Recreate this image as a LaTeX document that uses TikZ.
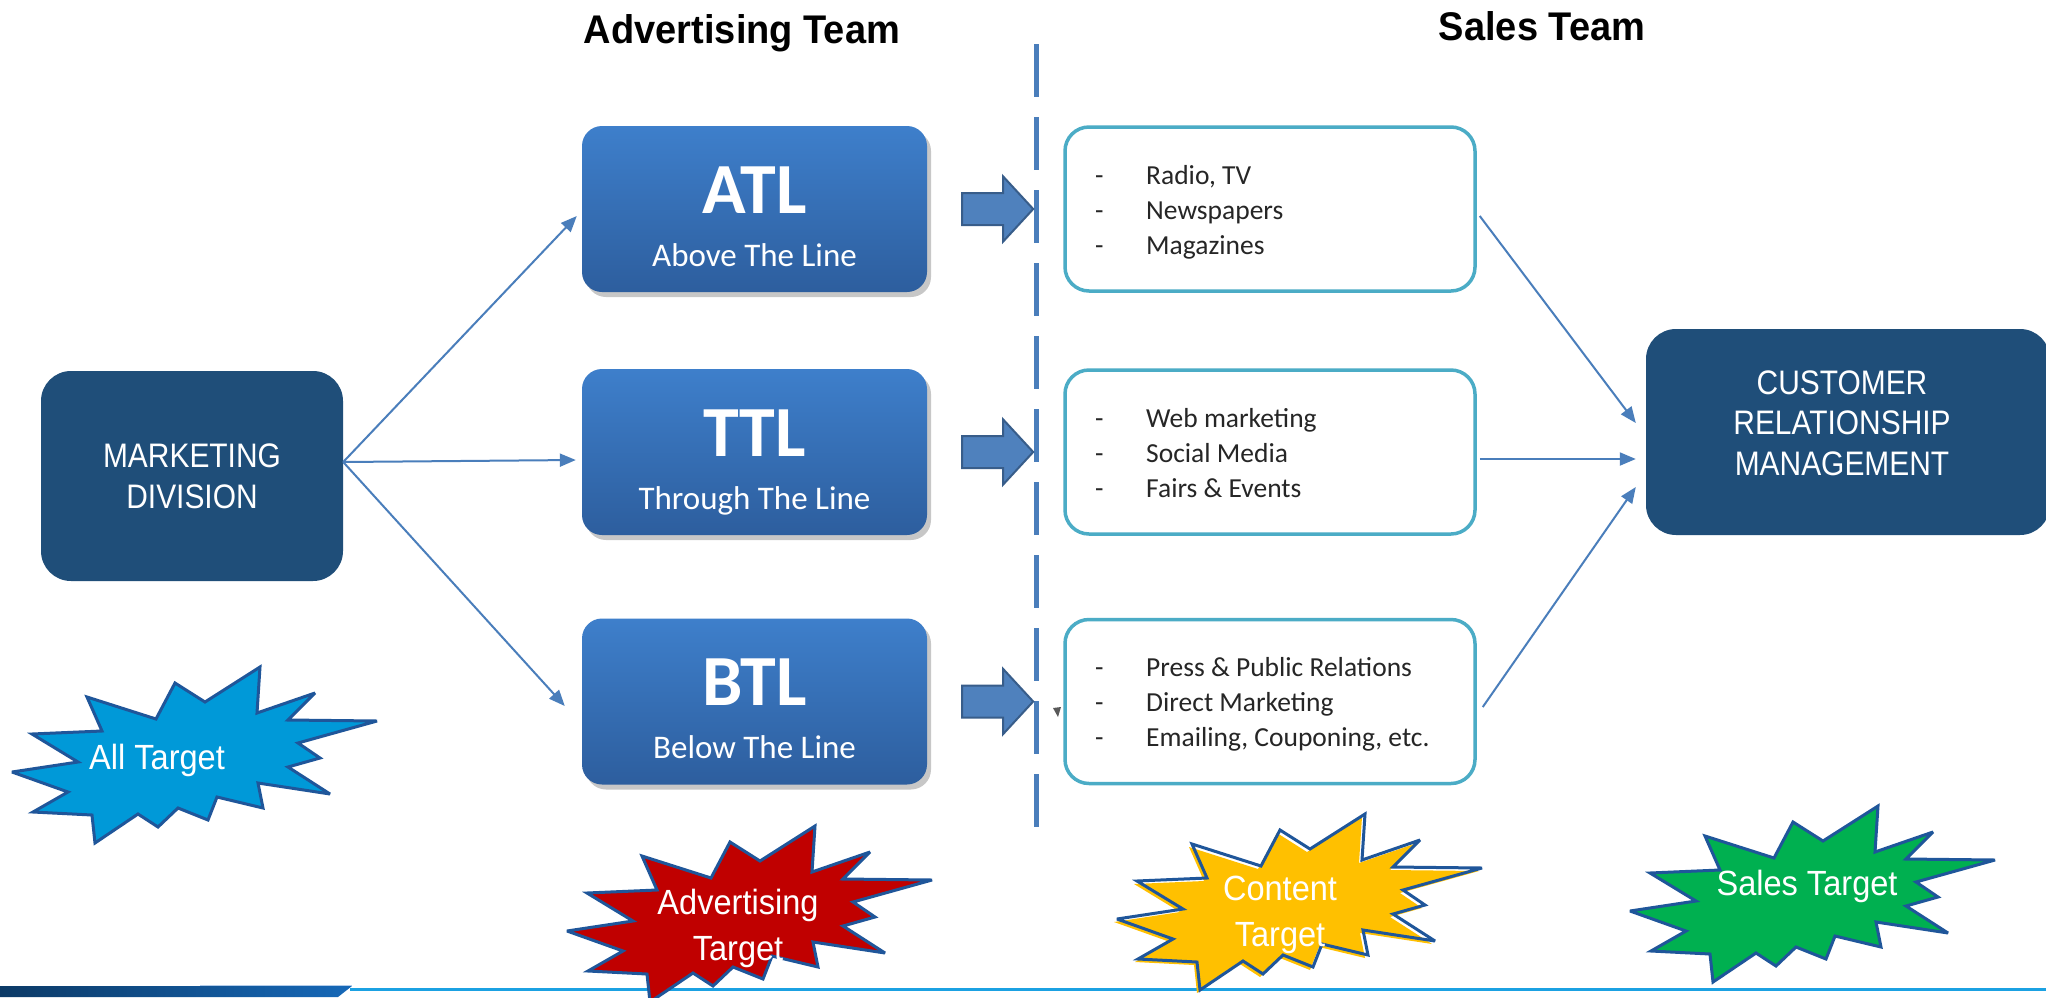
\documentclass[tikz,border=0pt]{standalone}
\usepackage{fontspec}
\setmainfont{Liberation Sans}
\newfontfamily\tahomaf{Liberation Sans}[FakeStretch=0.88]
\newfontfamily\calibf{Carlito}
\newfontfamily\burstf{Liberation Sans}[FakeStretch=0.93]
\newfontfamily\titlef{Liberation Sans}[FakeStretch=0.95]
\usetikzlibrary{arrows.meta,shadows,calc}
\definecolor{cNavy}{HTML}{1F4E79}
\definecolor{cTop}{HTML}{3E7FCB}
\definecolor{cBot}{HTML}{2D5E9E}
\definecolor{cLine}{HTML}{4A7EBB}
\definecolor{cBA}{HTML}{4F81BD}
\definecolor{cBAedge}{HTML}{385D8A}
\definecolor{cTeal}{HTML}{4BACC6}
\definecolor{cEdge}{HTML}{1F569A}
\definecolor{cAll}{HTML}{0099D8}
\definecolor{cRed}{HTML}{C00000}
\definecolor{cYel}{HTML}{FFC000}
\definecolor{cGreen}{HTML}{00B050}
\definecolor{cCyan}{HTML}{1BA1E2}
\definecolor{cBarL}{HTML}{0C3A66}
\definecolor{cBarR}{HTML}{1668B8}
\definecolor{cTxt}{HTML}{262626}
\tikzset{
  dbox/.style={rounded corners=30pt, fill=cNavy, text=white, inner sep=0pt,
    font=\tahomaf\fontsize{34}{41}\selectfont, align=center},
  lbox/.style={rounded corners=20pt, minimum width=345pt, minimum height=166pt,
    top color=cTop, bottom color=cBot, draw=none, inner sep=0pt,
    drop shadow={shadow xshift=4pt, shadow yshift=-5pt, opacity=0.22, fill=black}},
  rbox/.style={rounded corners=24pt, minimum width=410pt, minimum height=164pt,
    draw=cTeal, line width=3.5pt, fill=white, inner sep=0pt},
  bigT/.style={text=white, inner sep=0pt, anchor=base, font=\calibf\bfseries\fontsize{72}{80}\selectfont},
  subT/.style={text=white, inner sep=0pt, anchor=base, font=\calibf\fontsize{33}{38}\selectfont},
  listT/.style={text=cTxt, inner sep=0pt, anchor=west, font=\calibf\fontsize{27.5}{35}\selectfont},
  thin/.style={draw=cLine, line width=2pt, -{Triangle[length=16pt,width=13pt]}},
  burstst/.style={draw=cEdge, line width=3pt, line join=miter, miter limit=4},
  bursttext/.style={text=white, inner sep=0pt, align=center, font=\burstf\fontsize{35}{46}\selectfont},
  teamT/.style={inner sep=0pt, anchor=base, font=\titlef\bfseries\fontsize{40}{46}\selectfont},
  burst/.pic={\path[pic actions] (0,0) -- (-3,46) -- (55,26) -- (28,53) -- (117,54) -- (38,76) -- (60,91) -- (28,100) -- (70,127) -- (-2,116) -- (3,141) -- (-43,130) -- (-52,153) -- (-82,141) -- (-102,160) -- (-122,147) -- (-165,176) -- (-168,148) -- (-227,145) -- (-192,125) -- (-248,105) -- (-182,95) -- (-228,67) -- (-158,64) -- (-173,30) -- (-104,52) -- (-85,16) -- (-55,35) -- cycle;},
  barrow/.pic={\path[pic actions] (0,-16) -- (41,-16) -- (41,-32.5) -- (71,0) -- (41,32.5) -- (41,16) -- (0,16) -- cycle;}
}
\begin{document}
\begin{tikzpicture}[x=1pt, y=-1pt]
\clip (0,0) rectangle (2046,997);
\fill[white] (0,0) rectangle (2046,997);

% titles
\node[teamT] (advteam) at (742,43) {Advertising Team};
\node[teamT] (salesteam) at (1542,40) {Sales Team};

% dashed divider
\draw[cLine, line width=5pt, dash pattern=on 53pt off 20pt] (1036,44) -- (1036,827);

% marketing division
\node[dbox, minimum width=302pt, minimum height=210pt] (md) at (192,476) {MARKETING\\DIVISION};

% left boxes
\node[lbox] (atl) at (754.5,209) {};
\node[lbox] (ttl) at (754.5,452) {};
\node[lbox] (btl) at (754.5,701.5) {};
\node[bigT] (atlA) at ($(atl.center)+(0,4)$) {ATL};
\node[subT] (atlB) at ($(atl.center)+(0,57)$) {Above The Line};
\node[bigT] (ttlA) at ($(ttl.center)+(0,4)$) {TTL};
\node[subT] (ttlB) at ($(ttl.center)+(0,57)$) {Through The Line};
\node[bigT] (btlA) at ($(btl.center)+(0,4)$) {BTL};
\node[subT] (btlB) at ($(btl.center)+(0,57)$) {Below The Line};

% block arrows
\pic[fill=cBA, draw=cBAedge, line width=2pt, line join=miter] at ([xshift=35pt]atl.east) {barrow};
\pic[fill=cBA, draw=cBAedge, line width=2pt, line join=miter] at ([xshift=35pt]ttl.east) {barrow};
\pic[fill=cBA, draw=cBAedge, line width=2pt, line join=miter] at ([xshift=35pt]btl.east) {barrow};

% right boxes
\node[rbox] (r1) at (1270,209) {};
\node[rbox] (r2) at (1270,452) {};
\node[rbox] (r3) at (1270,701.5) {};
\node[listT] (r1t) at (1095,212) {\begin{tabular}{@{}p{51pt}@{}l@{}}-&Radio, TV\\-&Newspapers\\-&Magazines\end{tabular}};
\node[listT] (r2t) at (1095,455) {\begin{tabular}{@{}p{51pt}@{}l@{}}-&Web marketing\\-&Social Media\\-&Fairs \& Events\end{tabular}};
\node[listT] (r3t) at (1095,704.5) {\begin{tabular}{@{}p{51pt}@{}l@{}}-&Press \& Public Relations\\-&Direct Marketing\\-&Emailing, Couponing, etc.\end{tabular}};

% small stray triangle
\fill[black!65] (1053,708) -- (1061,707) -- (1058,717) -- cycle;

% CRM
\node[dbox, minimum width=404pt, minimum height=206pt] (crm) at (1848,432) {};
\node[text=white, inner sep=0pt, align=center, font=\tahomaf\fontsize{34}{40.5}\selectfont] (crmt) at (1842,423) {CUSTOMER\\RELATIONSHIP\\MANAGEMENT};

% thin arrows
\coordinate (mdo) at ($(md.east)+(0,-14)$);
\draw[thin] (mdo) -- ($(atl.west)+(-5,7)$);
\draw[thin] (mdo) -- ($(ttl.west)+(-6,8)$);
\draw[thin] (mdo) -- ($(btl.west)+(-17,4.5)$);
\draw[thin] ($(r1.east)+(3,7)$) -- ($(crm.west)+(-10,-9)$);
\draw[thin] ($(r2.east)+(3,7)$) -- ($(crm.west)+(-10,27)$);
\draw[thin] ($(r3.east)+(6,5.5)$) -- ($(crm.west)+(-10,55)$);

% bottom band
\shade[left color=cBarL, right color=cBarR] (0,986) -- (352,986) -- (338,997) -- (0,997) -- cycle;
\draw[cTop!40, line width=1pt] (200,985.5) -- (352,985.5);
\draw[cCyan, line width=3pt] (350,989) -- (2046,989);

% bursts
\pic[fill=cAll, burstst] at (260,667) {burst};
\node[bursttext] (allt) at (157,760) {All Target};
\pic[fill=cRed, burstst] at (815,826) {burst};
\node[bursttext] (advtg) at (738,928) {Advertising\\Target};
\pic[fill=cYel] at (1362,817) {burst};
\pic[burstst] at (1365,814) {burst};
\node[bursttext] (contt) at (1280,915) {Content\\Target};
\pic[fill=cGreen, burstst] at (1878,806) {burst};
\node[bursttext] (salt) at (1807,886) {Sales Target};
\end{tikzpicture}
\end{document}
